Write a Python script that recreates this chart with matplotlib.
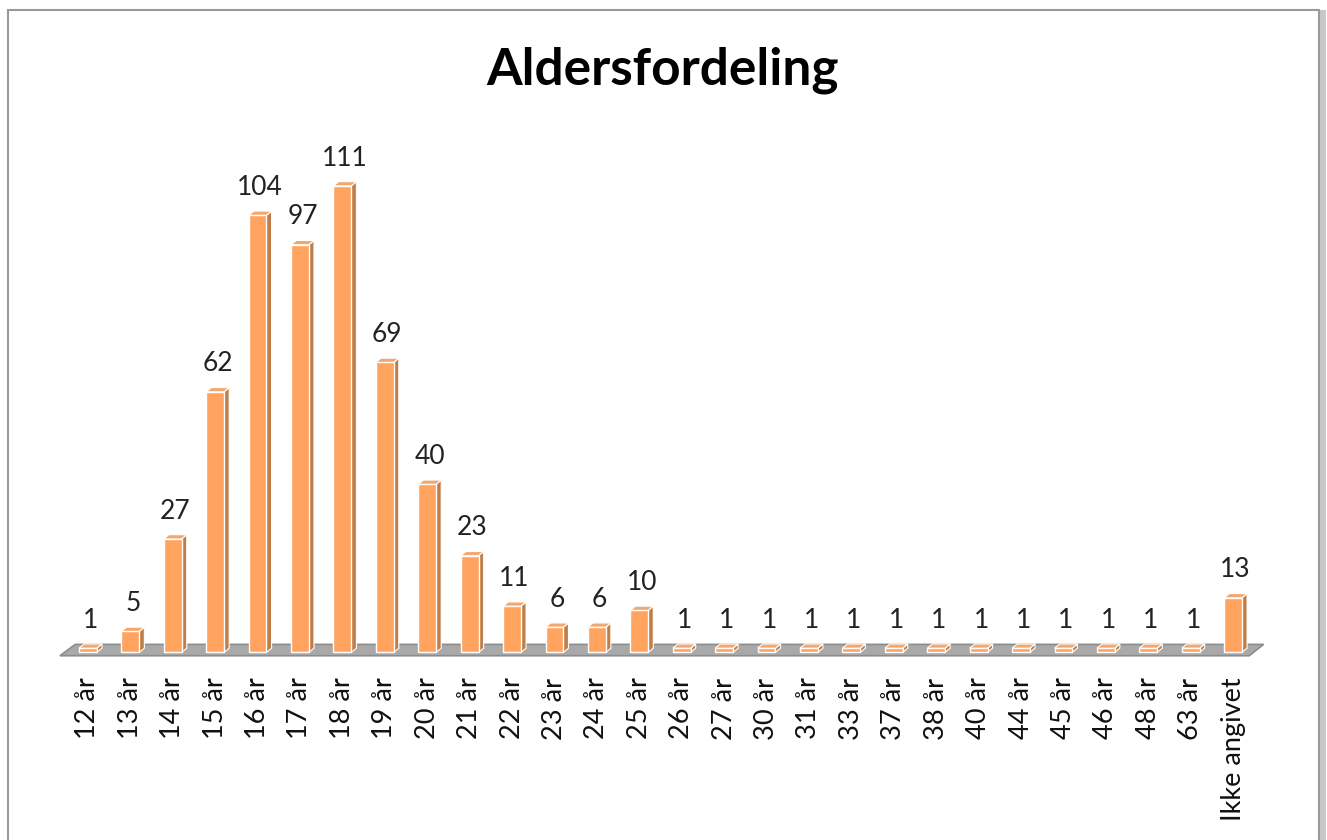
import matplotlib.pyplot as plt
from matplotlib.patches import Polygon, Rectangle

plt.rcParams['font.family'] = ['Lato', 'DejaVu Sans']

categories = ["12 år", "13 år", "14 år", "15 år", "16 år", "17 år", "18 år", "19 år",
              "20 år", "21 år", "22 år", "23 år", "24 år", "25 år", "26 år", "27 år",
              "30 år", "31 år", "33 år", "37 år", "38 år", "40 år", "44 år", "45 år",
              "46 år", "48 år", "63 år", "Ikke angivet"]
counts = [1, 5, 27, 62, 104, 97, 111, 69, 40, 23, 11, 6, 6, 10,
          1, 1, 1, 1, 1, 1, 1, 1, 1, 1, 1, 1, 1, 13]

front = "#FFA35F"
side = "#BF7E48"
top = "#F5A66C"

W, H = 1327, 840
fig = plt.figure(figsize=(W / 100, H / 100), dpi=100)

# chart frame with a little shadow on the right
fig.patches.append(Rectangle((1319 / W, 0), 7 / W, 1 - 10 / H, transform=fig.transFigure,
                             facecolor="#c8c8c8", edgecolor="none", zorder=-10))
fig.patches.append(Rectangle((8 / W, -0.01), 1311 / W, 1.01 - 10 / H, transform=fig.transFigure,
                             facecolor="white", edgecolor="#9a9a9a", linewidth=1.5, zorder=-9))

ax = fig.add_axes([54 / W, (H - 665) / H, (1267 - 54) / W, (665 - 127) / H])
ax.set_xlim(-0.8, len(categories) - 0.2)
ax.set_ylim(-3, 125)
for s in ax.spines.values():
    s.set_visible(False)
ax.set_yticks([])
ax.patch.set_alpha(0)

bw = 0.42   # bar width
dx = 0.12   # depth offset in x
dy = 1.0    # depth offset in y

# floor
n = len(categories)
ax.add_patch(Polygon([(-0.66, -0.8), (n - 0.62, -0.8), (n - 0.28, 1.9), (-0.3, 1.9)],
                     closed=True, facecolor="#a9a9a9", edgecolor="#8c8c8c", linewidth=1.2,
                     zorder=1))

xs = list(range(n))
bars = ax.bar(xs, counts, width=bw, color=front, edgecolor="white", linewidth=1.0, zorder=3)
for b, v in zip(bars, counts):
    x0 = b.get_x()
    x1 = x0 + b.get_width()
    h = b.get_height()
    ax.add_patch(Polygon([(x1, 0), (x1 + dx, dy), (x1 + dx, h + dy), (x1, h)],
                         closed=True, facecolor=side, edgecolor="white", linewidth=0.8, zorder=2))
    ax.add_patch(Polygon([(x0, h), (x0 + dx, h + dy), (x1 + dx, h + dy), (x1, h)],
                         closed=True, facecolor=top, edgecolor="white", linewidth=0.8, zorder=4))
    ax.annotate(str(v), (b.get_x() + bw / 2 + dx / 2, h + dy), xytext=(0, 8),
                textcoords="offset points", ha="center", va="bottom",
                fontsize=19, color="#222222")

ax.set_xticks(xs)
ax.set_xticklabels(categories, rotation=90, fontsize=19.5, color="#111111")
ax.tick_params(axis="x", length=0, pad=9)

fig.text(663 / W, 1 - 70 / H, "Aldersfordeling", ha="center", va="center",
         fontsize=37, fontweight="bold", color="black")

fig.savefig("out.png", dpi=100)
